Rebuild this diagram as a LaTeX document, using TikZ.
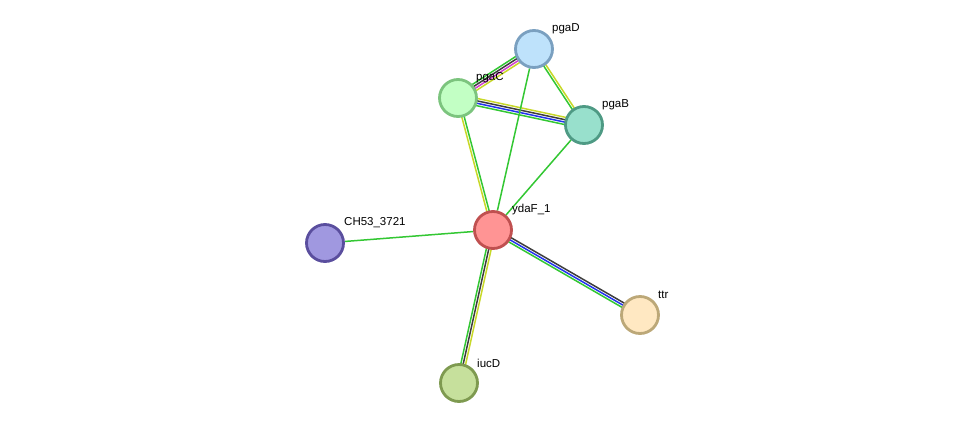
\documentclass[tikz,border=0pt]{standalone}
\usepackage{fontspec}
\setmainfont{Liberation Sans}
\usetikzlibrary{calc,backgrounds}
\definecolor{eg}{HTML}{33C733}
\definecolor{ek}{HTML}{3D3D3D}
\definecolor{em}{HTML}{D040D0}
\definecolor{ey}{HTML}{C8D828}
\definecolor{eb}{HTML}{2233EE}
\definecolor{dD}{HTML}{7AA0C0}\definecolor{fD}{HTML}{BEE2FB}
\definecolor{dC}{HTML}{7CC47E}\definecolor{fC}{HTML}{C2FFC4}
\definecolor{dB}{HTML}{4E9A84}\definecolor{fB}{HTML}{98E0CC}
\definecolor{dY}{HTML}{C05050}\definecolor{fY}{HTML}{FF9494}
\definecolor{dH}{HTML}{5A4E9E}\definecolor{fH}{HTML}{A098E0}
\definecolor{dT}{HTML}{BCA878}\definecolor{fT}{HTML}{FFE8C2}
\definecolor{dI}{HTML}{7E9A50}\definecolor{fI}{HTML}{C6E09C}
\tikzset{
  prot/.style={circle, minimum size=37pt, inner sep=0pt, line width=2.8pt},
  lbl/.style={anchor=west, font=\fontsize{11.5}{13}\selectfont, text=black, inner sep=0pt},
  ed/.style={line width=1.5pt},
}
\newcommand\pedge[4]{\draw[ed,#4] ($(#1)!#3!90:(#2)$) -- ($(#2)!#3!-90:(#1)$);}
\begin{document}
\begin{tikzpicture}[x=1pt,y=-1pt]
\useasboundingbox (0,0) rectangle (975,429);
\node[prot, draw=dD, fill=fD] (pgaD) at (534,49) {};
\node[prot, draw=dC, fill=fC] (pgaC) at (458,98) {};
\node[prot, draw=dB, fill=fB] (pgaB) at (584,125) {};
\node[prot, draw=dY, fill=fY] (ydaF) at (493,230) {};
\node[prot, draw=dH, fill=fH] (ch) at (325,243) {};
\node[prot, draw=dT, fill=fT] (ttr) at (640,315) {};
\node[prot, draw=dI, fill=fI] (iucD) at (459,383) {};
\begin{scope}[on background layer]
\pedge{pgaC}{pgaD}{3.6pt}{eg}
\pedge{pgaC}{pgaD}{1.2pt}{ek}
\pedge{pgaC}{pgaD}{-1.2pt}{em}
\pedge{pgaC}{pgaD}{-3.6pt}{ey}
\pedge{pgaC}{pgaB}{3.6pt}{ey}
\pedge{pgaC}{pgaB}{1.2pt}{ek}
\pedge{pgaC}{pgaB}{-1.2pt}{eb}
\pedge{pgaC}{pgaB}{-3.6pt}{eg}
\pedge{pgaD}{pgaB}{1.2pt}{ey}
\pedge{pgaD}{pgaB}{-1.2pt}{eg}
\pedge{pgaC}{ydaF}{1.2pt}{eg}
\pedge{pgaC}{ydaF}{-1.2pt}{ey}
\draw[ed,eg] (pgaD) -- (ydaF);
\draw[ed,eg] (pgaB) -- (ydaF);
\draw[ed,eg] (ydaF) -- (ch);
\pedge{ydaF}{ttr}{2.4pt}{ek}
\pedge{ydaF}{ttr}{0pt}{eb}
\pedge{ydaF}{ttr}{-2.4pt}{eg}
\pedge{ydaF}{iucD}{2.4pt}{ey}
\pedge{ydaF}{iucD}{0pt}{ek}
\pedge{ydaF}{iucD}{-2.4pt}{eg}
\end{scope}
\node[lbl] (lD) at ($(pgaD)+(18,-20)$) {pgaD};
\node[lbl] (lC) at ($(pgaC)+(18,-20)$) {pgaC};
\node[lbl] (lB) at ($(pgaB)+(18,-20)$) {pgaB};
\node[lbl] (lY) at ($(ydaF)+(19,-20)$) {ydaF\_1};
\node[lbl] (lH) at ($(ch)+(19,-20)$) {CH53\_3721};
\node[lbl] (lT) at ($(ttr)+(18,-20)$) {ttr};
\node[lbl] (lI) at ($(iucD)+(18,-20)$) {iucD};
\end{tikzpicture}
\end{document}
